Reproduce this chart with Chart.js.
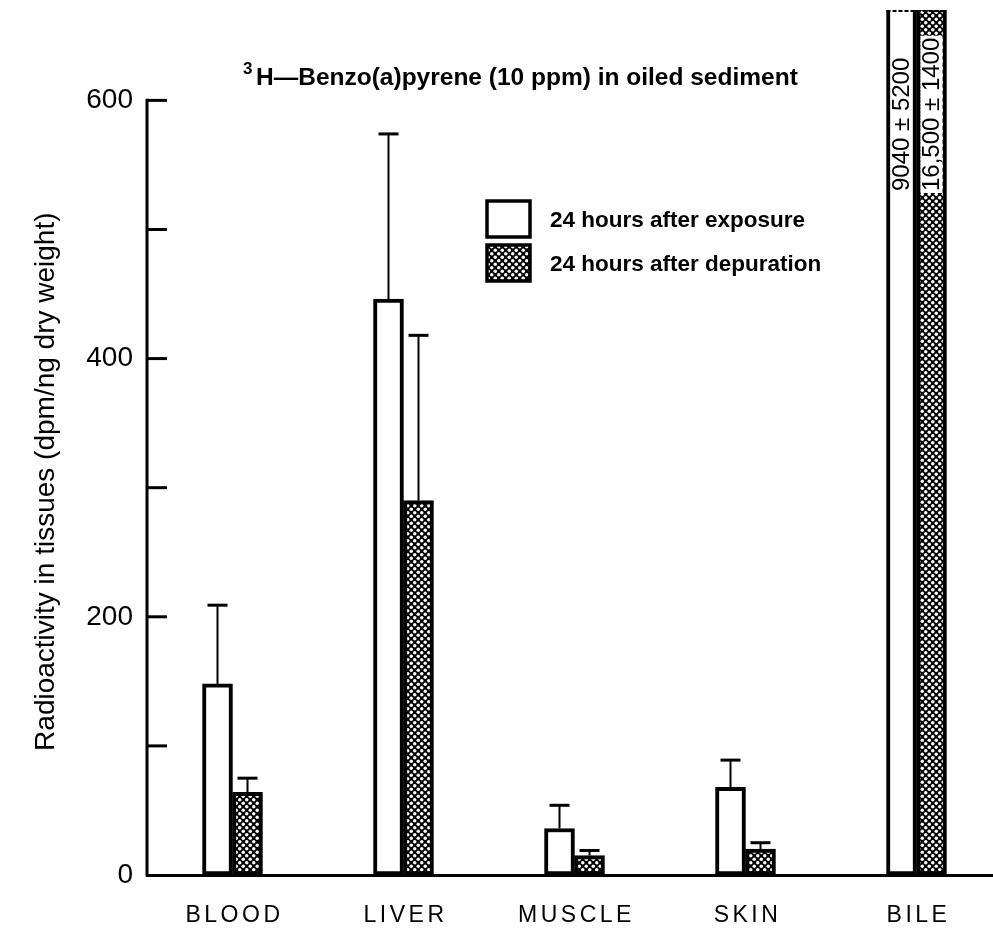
<!DOCTYPE html>
<html>
<head>
<meta charset="utf-8">
<script src="https://cdn.jsdelivr.net/npm/chart.js@4/dist/chart.umd.min.js"></script>
<style>
  html, body { margin: 0; padding: 0; background: #fff; overflow: hidden; }
  #wrap { position: relative; width: 1003px; height: 929px; }
</style>
</head>
<body>
<div id="wrap"><canvas id="chart" width="1003" height="929"></canvas></div>
<script>
// Tissue radioactivity after exposure to 3H-benzo(a)pyrene in oiled sediment
const categories = ['BLOOD', 'LIVER', 'MUSCLE', 'SKIN', 'BILE'];
const seriesNames = ['24 hours after exposure', '24 hours after depuration'];
const exposureMeans = [148, 446, 36, 68, 9040];
const exposureErrors = [61, 128, 18, 21, 5200];
const depurationMeans = [64, 290, 15, 20, 16500];
const depurationErrors = [11, 128, 4, 5, 1400];
const yTickValues = [0, 100, 200, 300, 400, 500, 600];
const yLabelledTicks = [0, 200, 400, 600];
const titleSup = '3';
const titleText = 'H\u2014Benzo(a)pyrene (10 ppm) in oiled sediment';
const yAxisTitle = 'Radioactivity in tissues (dpm/ng dry weight)';

const AXIS_TOP = 600;          // highest value on the drawn axis
const FONT = '"Liberation Sans", Arial, sans-serif';

// Dotted stipple fill used for the depuration bars
function stipple() {
  const s = 7;
  const p = document.createElement('canvas');
  p.width = s; p.height = s;
  const g = p.getContext('2d');
  g.fillStyle = '#000';
  g.fillRect(0, 0, s, s);
  g.fillStyle = '#fff';
  [[s / 4, s / 4], [3 * s / 4, 3 * s / 4]].forEach(([cx, cy]) => {
    g.beginPath();
    g.arc(cx, cy, 1.75, 0, Math.PI * 2);
    g.fill();
  });
  return g.createPattern(p, 'repeat');
}

const ctx = document.getElementById('chart').getContext('2d');
const dots = stipple();

function fmtValue(n) {
  return n >= 10000 ? n.toLocaleString('en-US') : String(n);
}

const decorations = {
  id: 'decorations',
  afterDatasetsDraw(chart) {
    const c = chart.ctx;
    const y = chart.scales.y;
    const area = chart.chartArea;
    c.save();
    c.strokeStyle = '#000';
    c.lineCap = 'butt';

    // error whiskers (upper half only) and values of off-scale bars
    chart.data.datasets.forEach((ds, i) => {
      const meta = chart.getDatasetMeta(i);
      meta.data.forEach((bar, j) => {
        const mean = ds.data[j];
        const err = ds.errors[j];
        if (mean > AXIS_TOP) {
          const txt = fmtValue(mean) + ' \u00b1 ' + err;
          c.save();
          c.font = '24px ' + FONT;
          const w = c.measureText(txt).width;
          const startY = 191;
          if (i === 1) {
            c.fillStyle = '#fff';
            c.fillRect(bar.x - 11, startY - w - 2, 22, w + 4);
          }
          c.translate(bar.x + 1, startY);
          c.rotate(-Math.PI / 2);
          c.fillStyle = '#000';
          c.textAlign = 'left';
          c.textBaseline = 'middle';
          c.fillText(txt, 0, 0);
          c.restore();
          return;
        }
        const yTop = y.getPixelForValue(mean + err);
        c.lineWidth = 2;
        c.beginPath();
        c.moveTo(bar.x, bar.y);
        c.lineTo(bar.x, yTop);
        c.stroke();
        c.lineWidth = 3;
        c.beginPath();
        c.moveTo(bar.x - 10, yTop);
        c.lineTo(bar.x + 10, yTop);
        c.stroke();
      });
    });

    // broken top edge where the bile bars run off the chart
    const m0 = chart.getDatasetMeta(0).data[4];
    const m1 = chart.getDatasetMeta(1).data[4];
    c.lineWidth = 2;
    c.setLineDash([4, 2]);
    c.beginPath();
    c.moveTo(m0.x - m0.width / 2, area.top + 1);
    c.lineTo(m1.x + m1.width / 2, area.top + 1);
    c.stroke();
    c.setLineDash([]);
    c.restore();
  },
  afterDraw(chart) {
    const c = chart.ctx;
    const y = chart.scales.y;
    const x = chart.scales.x;
    const left = chart.chartArea.left;
    c.save();
    c.strokeStyle = '#000';
    c.fillStyle = '#000';

    // vertical axis up to 600 with inward ticks
    c.lineWidth = 3;
    c.beginPath();
    c.moveTo(left, y.getPixelForValue(0) + 1.5);
    c.lineTo(left, y.getPixelForValue(AXIS_TOP) - 1.5);
    c.stroke();
    yTickValues.forEach(v => {
      if (v === 0) return;
      const py = y.getPixelForValue(v);
      c.beginPath();
      c.moveTo(left, py);
      c.lineTo(left + 20, py);
      c.stroke();
    });

    // category names under the bar pairs
    c.font = '23px ' + FONT;
    c.letterSpacing = '3.5px';
    c.textAlign = 'center';
    c.textBaseline = 'middle';
    categories.forEach((name, i) => {
      c.fillText(name, x.getPixelForValue(i) + 2, 916);
    });
    c.letterSpacing = '0px';

    // title with superscript
    c.textAlign = 'left';
    c.textBaseline = 'alphabetic';
    c.font = 'bold 17px ' + FONT;
    c.fillText(titleSup, 243, 74);
    c.font = 'bold 24.5px ' + FONT;
    c.fillText(titleText, 256, 85);

    // vertical axis title
    c.save();
    c.translate(46, y.getPixelForValue(AXIS_TOP / 2) - 6);
    c.rotate(-Math.PI / 2);
    c.font = '28px ' + FONT;
    c.textAlign = 'center';
    c.textBaseline = 'middle';
    c.fillText(yAxisTitle, 0, 0);
    c.restore();

    // legend
    const boxes = [
      { fill: '#fff', y: 201 },
      { fill: dots, y: 245 }
    ];
    boxes.forEach((b, i) => {
      c.fillStyle = b.fill;
      c.fillRect(487, b.y, 43, 36);
      c.lineWidth = 3.5;
      c.strokeStyle = '#000';
      c.strokeRect(487, b.y, 43, 36);
      c.fillStyle = '#000';
      c.font = 'bold 22.5px ' + FONT;
      c.textBaseline = 'middle';
      c.fillText(seriesNames[i], 550, b.y + 20);
    });
    c.restore();
  }
};

new Chart(ctx, {
  type: 'bar',
  data: {
    labels: categories,
    datasets: [
      {
        label: seriesNames[0],
        data: exposureMeans,
        errors: exposureErrors,
        backgroundColor: '#fff',
        borderColor: '#000',
        borderWidth: 4,
        borderSkipped: false,
        barThickness: 30
      },
      {
        label: seriesNames[1],
        data: depurationMeans,
        errors: depurationErrors,
        backgroundColor: dots,
        borderColor: '#000',
        borderWidth: 4,
        borderSkipped: false,
        barThickness: 30
      }
    ]
  },
  options: {
    responsive: false,
    animation: false,
    layout: { padding: { top: 10, right: 1, left: 0, bottom: 0 } },
    plugins: { legend: { display: false }, tooltip: { enabled: false } },
    scales: {
      x: {
        grid: { display: false, drawTicks: false },
        border: { display: true, color: '#000', width: 3 },
        ticks: { display: false },
        afterFit(s) { s.height = 54; s.paddingLeft = 0; s.paddingRight = 0; }
      },
      y: {
        min: 0,
        max: 670,
        grid: { display: false, drawTicks: false },
        border: { display: false },
        ticks: {
          stepSize: 100,
          includeBounds: false,
          padding: 14,
          color: '#000',
          font: { family: FONT, size: 28 },
          callback: v => (yLabelledTicks.includes(v) ? v : '')
        },
        afterFit(s) { s.width = 147; s.paddingTop = 0; s.paddingBottom = 0; }
      }
    }
  },
  plugins: [decorations]
});
</script>
</body>
</html>
